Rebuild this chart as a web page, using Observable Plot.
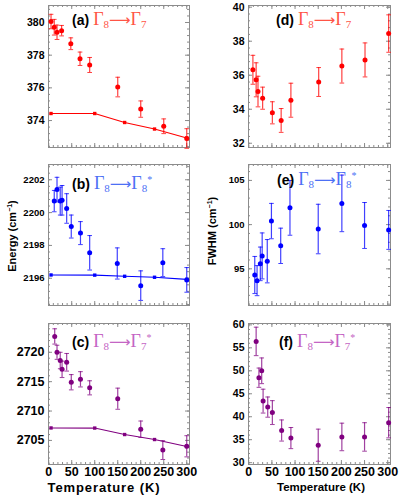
<!DOCTYPE html>
<html><head><meta charset="utf-8">
<script src="https://cdn.jsdelivr.net/npm/d3@7"></script>
<script src="https://cdn.jsdelivr.net/npm/@observablehq/plot@0.6"></script>
<style>
body{margin:0;background:#fff;}
#wrap{position:relative;width:399px;height:496px;overflow:hidden;font-family:"Liberation Sans",Arial,sans-serif;}
.ttl{position:absolute;white-space:nowrap;line-height:18px;height:18px;}
.ttl .lab{font-weight:bold;font-size:14px;color:#000;font-family:"Liberation Sans",Arial,sans-serif;}
.ttl .g{font-family:"Liberation Serif","DejaVu Serif",serif;font-size:18px;margin-left:4px;}
.ttl .g sub{font-size:11px;vertical-align:-3px;}
.ttl .g sup{font-size:10px;vertical-align:6px;}
.ttl .g .arr{font-family:"DejaVu Sans",sans-serif;font-size:15px;}
.ylab{position:absolute;font-weight:bold;font-size:11px;white-space:nowrap;transform:translate(-50%,-50%) rotate(-90deg);}
.ylab sup{font-size:7px;vertical-align:4px;}
.xlab{position:absolute;font-weight:bold;white-space:nowrap;transform:translate(-50%,-50%);}
</style>
</head><body>
<div id="wrap"></div>
<script>
// ---------- data ----------
const xTickLabels = [0, 50, 100, 150, 200, 250, 300];
const Tfit = [5, 100, 165, 230, 300];

// (a) Γ8→Γ7 energy
const T_a = [5, 12, 18, 28, 48, 68, 89, 150, 200, 250, 300];
const E_a = [380.06, 379.71, 379.40, 379.50, 378.70, 377.78, 377.40, 376.05, 374.70, 373.65, 372.90];
const dE_a = [0.44, 0.48, 0.44, 0.32, 0.36, 0.41, 0.46, 0.6, 0.5, 0.45, 0.6];
const fit_a = [374.43, 374.43, 373.88, 373.48, 372.93];
const yTicks_a = [374, 376, 378, 380];

// (b) Γ8→Γ8* energy
const T_b = [12, 18, 25, 29, 39, 49, 69, 89, 149, 200, 248, 300];
const E_b = [2200.7, 2201.4, 2200.7, 2200.75, 2200.25, 2199.15, 2198.75, 2197.55, 2196.9, 2195.55, 2196.95, 2195.9];
const dE_b = [0.65, 0.75, 0.85, 0.9, 0.9, 0.7, 0.7, 1.05, 0.95, 0.9, 0.85, 0.75];
const fit_b = [2196.2, 2196.19, 2196.12, 2196.06, 2195.93];
const yTicks_b = [2196, 2198, 2200, 2202];

// (c) Γ8→Γ7* energy
const T_c = [13, 18, 25, 29, 39, 49, 69, 89, 150, 200, 248, 300];
const E_c = [2722.7, 2720.0, 2718.6, 2717.1, 2718.3, 2714.9, 2715.4, 2713.95, 2712.1, 2706.9, 2703.35, 2704.0];
const dE_c = [1.3, 1.2, 1.4, 1.4, 1.5, 1.3, 1.3, 1.2, 1.8, 1.4, 1.6, 1.8];
const fit_c = [2707.12, 2707.1, 2706.0, 2705.15, 2703.97];
const yTicks_c = [2705, 2710, 2715, 2720];

// (d) Γ8→Γ7 FWHM
const T_d = [9, 16, 20, 30, 51, 70, 91, 151, 201, 251, 302];
const W_d = [36.32, 35.73, 35.04, 34.65, 33.79, 33.34, 34.53, 35.6, 36.54, 36.9, 38.45];
const dW_d = [0.85, 1.0, 0.9, 0.65, 0.65, 0.7, 1.0, 0.85, 1.0, 1.0, 1.1];
const yTicks_d = [32, 34, 36, 38, 40];

// (e) Γ8→Γ8* FWHM
const T_e = [13, 18, 25, 29, 40, 49, 69, 89, 150, 201, 250, 302];
const W_e = [94.3, 93.66, 95.56, 96.46, 95.86, 100.4, 97.6, 101.9, 99.5, 102.4, 99.9, 99.4];
const dW_e = [2.1, 1.7, 1.9, 2.6, 2.45, 2.0, 2.0, 3.1, 2.8, 3.2, 2.6, 2.2];
const yTicks_e = [95, 100, 105];

// (f) Γ8→Γ7* FWHM
const T_f = [16, 22, 28, 31, 41, 51, 71, 91, 150, 201, 250, 302];
const W_f = [56.4, 48.5, 50.0, 43.4, 42.1, 40.9, 37.0, 35.35, 33.8, 35.6, 35.6, 38.7];
const dW_f = [3.1, 2.1, 2.8, 2.6, 2.2, 2.6, 2.3, 2.3, 3.5, 3.0, 3.1, 3.3];
const yTicks_f = [30, 35, 40, 45, 50, 55, 60];

// ---------- drawing ----------
const RED = "#ff0000", BLUE = "#0000ff", PURPLE = "#800080";
const wrap = document.getElementById("wrap");
const hline = {draw(ctx, size) { const w = Math.sqrt(size) * 0.55; ctx.moveTo(-w, 0); ctx.lineTo(w, 0); }};

function minorTicks(major, n) {
  const step = (major[1] - major[0]) / n;
  const out = [];
  for (let v = major[0] - 20 * step; v <= major[major.length - 1] + 20 * step; v += step) out.push(+v.toFixed(6));
  return out;
}

function panel(o) {
  const data = o.T.map((t, i) => ({t, v: o.V[i], e: o.dV[i]}));
  const fit = o.fit ? Tfit.map((t, i) => ({t, v: o.fit[i]})) : null;
  const fw = o.width - o.mL - o.mR;
  const fh = o.height - o.mT - o.mB;
  const [y0, y1] = o.yDomain;
  const yMin = minorTicks(o.yTicks, o.nMinor).filter(v => v >= y0 && v <= y1);
  const xMin = d3.range(0, 307, 10);
  const tickStroke = "#8c8c8c";
  const marks = [
    Plot.frame({stroke: "#8c8c8c"}),
    Plot.tickY(yMin, {y: d => d, insetRight: fw - 2, stroke: tickStroke}),
    Plot.tickY(yMin, {y: d => d, insetLeft: fw - 2, stroke: tickStroke}),
    Plot.tickY(o.yTicks, {y: d => d, insetRight: fw - 4, stroke: tickStroke}),
    Plot.tickY(o.yTicks, {y: d => d, insetLeft: fw - 4, stroke: tickStroke}),
    Plot.tickX(xMin, {x: d => d, insetTop: fh - 2, stroke: tickStroke}),
    Plot.tickX(xMin, {x: d => d, insetBottom: fh - 2, stroke: tickStroke}),
    Plot.tickX(xTickLabels, {x: d => d, insetTop: fh - 4, stroke: tickStroke}),
    Plot.tickX(xTickLabels, {x: d => d, insetBottom: fh - 4, stroke: tickStroke}),
    Plot.axisY({ticks: o.yTicks, tickSize: 0, tickPadding: 4, label: null, tickFormat: d => String(d), fontSize: o.fs, fontWeight: "bold"})
  ];
  if (o.showX) marks.push(Plot.axisX({ticks: xTickLabels, tickSize: 0, tickPadding: 3, label: null, tickFormat: d => String(d), fontSize: 12.5, fontWeight: "bold"}));
  if (fit) {
    marks.push(Plot.line(fit, {x: "t", y: "v", stroke: o.color, strokeWidth: 1.1}));
    marks.push(Plot.dot(fit, {x: "t", y: "v", r: 1.9, fill: o.color, symbol: "square"}));
  }
  marks.push(
    Plot.ruleX(data, {x: "t", y1: d => d.v - d.e, y2: d => d.v + d.e, stroke: o.color, strokeOpacity: 0.75, strokeWidth: 1.2}),
    Plot.dot(data, {x: "t", y: d => d.v + d.e, symbol: hline, r: 2.4, stroke: o.color, strokeOpacity: 0.75, strokeWidth: 1}),
    Plot.dot(data, {x: "t", y: d => d.v - d.e, symbol: hline, r: 2.4, stroke: o.color, strokeOpacity: 0.75, strokeWidth: 1}),
    Plot.dot(data, {x: "t", y: "v", r: 2.5, fill: o.color, stroke: "none"})
  );
  const svg = Plot.plot({
    width: o.width, height: o.height,
    marginLeft: o.mL, marginRight: o.mR, marginTop: o.mT, marginBottom: o.mB,
    x: {domain: [-0.5, 306], axis: null},
    y: {domain: o.yDomain, axis: null},
    style: {fontFamily: "'Liberation Sans', Arial, sans-serif", fontWeight: "bold", color: "#000", background: "transparent", overflow: "visible"},
    marks
  });
  svg.style.position = "absolute";
  svg.style.left = o.left + "px";
  svg.style.top = o.top + "px";
  wrap.appendChild(svg);
}

const C1 = {left: 0, width: 200, mL: 48, mR: 11};
const C2 = {left: 200, width: 199, mL: 48, mR: 9};
const R1 = {top: 0, height: 150, mT: 5, mB: 3};
const R2 = {top: 159, height: 150, mT: 5, mB: 4};
const R3 = {top: 318, height: 178, mT: 5, mB: 32};

panel({...C1, ...R1, T: T_a, V: E_a, dV: dE_a, fit: fit_a, color: RED, yDomain: [372.35, 381.04], yTicks: yTicks_a, nMinor: 5, fs: 10.5});
panel({...C1, ...R2, T: T_b, V: E_b, dV: dE_b, fit: fit_b, color: BLUE, yDomain: [2194.34, 2202.93], yTicks: yTicks_b, nMinor: 5, fs: 9.5});
panel({...C1, ...R3, T: T_c, V: E_c, dV: dE_c, fit: fit_c, color: PURPLE, yDomain: [2700.9, 2724.9], yTicks: yTicks_c, nMinor: 5, fs: 12.5, showX: true});
panel({...C2, ...R1, T: T_d, V: W_d, dV: dW_d, color: RED, yDomain: [31.75, 40.1], yTicks: yTicks_d, nMinor: 5, fs: 10.5});
panel({...C2, ...R2, T: T_e, V: W_e, dV: dW_e, color: BLUE, yDomain: [90.85, 106.8], yTicks: yTicks_e, nMinor: 5, fs: 9.5});
panel({...C2, ...R3, T: T_f, V: W_f, dV: dW_f, color: PURPLE, yDomain: [29.6, 60.3], yTicks: yTicks_f, nMinor: 5, fs: 10.5, showX: true});

// ---------- titles & labels ----------
function addHTML(cls, html, css) {
  const d = document.createElement("div");
  d.className = cls; d.innerHTML = html;
  Object.assign(d.style, css);
  wrap.appendChild(d);
}
const ARR = '<span class="arr">⟶</span>';
const titles = [
  ["(a)", `Γ<sub>8</sub>${ARR}Γ<sub>7</sub>`, "#ff5546", 72, 10],
  ["(b)", `Γ<sub>8</sub>${ARR}Γ<sub>8</sub><sup>*</sup>`, "#4d70f5", 72, 171],
  ["(c)", `Γ<sub>8</sub>${ARR}Γ<sub>7</sub><sup>*</sup>`, "#c465c4", 72, 329],
  ["(d)", `Γ<sub>8</sub>${ARR}Γ<sub>7</sub>`, "#ff5546", 276, 10],
  ["(e)", `Γ<sub>8</sub>${ARR}Γ<sub>8</sub><sup>*</sup>`, "#4d70f5", 277, 167],
  ["(f)", `Γ<sub>8</sub>${ARR}Γ<sub>7</sub><sup>*</sup>`, "#c465c4", 279, 329]
];
for (const [lab, g, col, x, y] of titles) {
  addHTML("ttl", `<span class="lab">${lab}</span><span class="g" style="color:${col}">${g}</span>`, {left: x + "px", top: y + "px"});
}
addHTML("ylab", "Energy (cm<sup>−1</sup>)", {left: "12px", top: "236px"});
addHTML("ylab", "FWHM (cm<sup>−1</sup>)", {left: "212px", top: "231px"});
addHTML("xlab", "Temperature (K)", {left: "104px", top: "487px", fontSize: "13px", letterSpacing: "0.9px"});
addHTML("xlab", "Temperature (K)", {left: "321px", top: "487px", fontSize: "11.5px"});
</script>
</body></html>
